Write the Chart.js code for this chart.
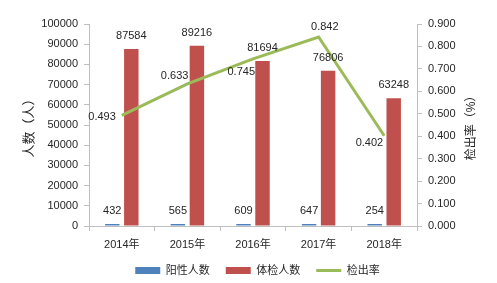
<!DOCTYPE html>
<html>
<head>
<meta charset="utf-8">
<script src="https://cdn.jsdelivr.net/npm/chart.js@4/dist/chart.umd.min.js"></script>
<style>
  body { margin: 0; background: #fff; }
  #wrap { width: 497px; height: 283px; }
</style>
</head>
<body>
<div id="wrap"><canvas id="chart"></canvas></div>
<script>
const years = ['2014年', '2015年', '2016年', '2017年', '2018年'];
const positive = [432, 565, 609, 647, 254];
const examined = [87584, 89216, 81694, 76806, 63248];
const detectRate = [0.493, 0.633, 0.745, 0.842, 0.402];

const FONT = "'Liberation Sans', 'Noto Sans CJK SC', sans-serif";
const TXT = '#262626';

// value labels like the excel chart
const labelPlugin = {
    id: 'valueLabels',
    afterDatasetsDraw(chart, args, opts) {
        const ctx = chart.ctx;
        ctx.save();
        ctx.font = '11px ' + FONT;
        ctx.fillStyle = TXT;
        ctx.textBaseline = 'middle';
        chart.data.datasets.forEach((ds, i) => {
            const meta = chart.getDatasetMeta(i);
            meta.data.forEach((el, j) => {
                const v = ds.data[j];
                if (ds.type === 'line') {
                    const off = opts.lineOffsets[j];
                    ctx.textAlign = 'right';
                    ctx.fillText(v.toFixed(3), el.x + off[0], el.y + off[1]);
                } else {
                    ctx.textAlign = 'center';
                    ctx.fillText(String(v), el.x, Math.min(el.y, chart.chartArea.bottom - 1) - 13);
                }
            });
        });
        // right axis title, reads bottom to top
        const y1 = chart.scales.y1;
        ctx.font = '12px ' + FONT;
        ctx.translate(472, (y1.top + y1.bottom) / 2);
        ctx.rotate(-Math.PI / 2);
        ctx.textAlign = 'center';
        ctx.fillText('检出率（%）', 0, 0);
        ctx.restore();
    }
};

new Chart(document.getElementById('chart').getContext('2d'), {
    data: {
        labels: years,
        datasets: [{
            type: 'line',
            label: '检出率',
            data: detectRate,
            yAxisID: 'y1',
            borderColor: '#9BBB59',
            backgroundColor: '#9BBB59',
            borderWidth: 3,
            pointRadius: 0,
            pointStyle: 'line',
            tension: 0,
            order: 0
        }, {
            type: 'bar',
            label: '阳性人数',
            data: positive,
            yAxisID: 'y',
            backgroundColor: '#4F81BD',
            pointStyle: 'rect',
            minBarLength: 2,
            categoryPercentage: 0.58,
            barPercentage: 0.76,
            order: 1
        }, {
            type: 'bar',
            label: '体检人数',
            data: examined,
            yAxisID: 'y',
            backgroundColor: '#C0504D',
            pointStyle: 'rect',
            categoryPercentage: 0.58,
            barPercentage: 0.76,
            order: 1
        }]
    },
    options: {
        responsive: true,
        maintainAspectRatio: false,
        animation: false,
        layout: { padding: { top: 24, left: 18, right: 0, bottom: -3 } },
        plugins: {
            legend: {
                position: 'bottom',
                labels: {
                    usePointStyle: true,
                    pointStyleWidth: 25,
                    boxHeight: 7,
                    padding: 16,
                    color: TXT,
                    font: { family: FONT, size: 11 },
                    sort: (a, b) => [1, 2, 0].indexOf(a.datasetIndex) - [1, 2, 0].indexOf(b.datasetIndex)
                }
            },
            tooltip: { enabled: false },
            valueLabels: {
                lineOffsets: [[-6, 2], [1, -8], [2, 13], [20, -10], [-1, 7]]
            }
        },
        scales: {
            x: {
                grid: { display: true, drawOnChartArea: false, tickLength: 5, color: '#bfbfbf' },
                border: { color: '#bfbfbf' },
                ticks: { color: TXT, font: { family: FONT, size: 11 }, padding: 7 },
                afterFit: (s) => { s.height = 23; }
            },
            y: {
                position: 'left',
                min: 0,
                max: 100000,
                grid: { display: true, drawOnChartArea: false, tickLength: 5, color: '#bfbfbf' },
                border: { color: '#bfbfbf' },
                ticks: {
                    stepSize: 10000,
                    color: TXT,
                    font: { family: FONT, size: 11 },
                    padding: 6,
                    callback: (v) => String(v)
                },
                title: { display: true, text: '人数（人）', color: TXT, font: { family: FONT, size: 13 }, padding: 4 },
                afterFit: (s) => { s.width = 71; }
            },
            y1: {
                position: 'right',
                min: 0,
                max: 0.9,
                grid: { display: true, drawOnChartArea: false, tickLength: 5, color: '#bfbfbf' },
                border: { color: '#bfbfbf' },
                ticks: {
                    stepSize: 0.1,
                    color: TXT,
                    font: { family: FONT, size: 11 },
                    padding: 6,
                    callback: (v) => v.toFixed(3)
                },
                afterFit: (s) => { s.width = 80; }
            }
        }
    },
    plugins: [labelPlugin]
});
</script>
</body>
</html>
